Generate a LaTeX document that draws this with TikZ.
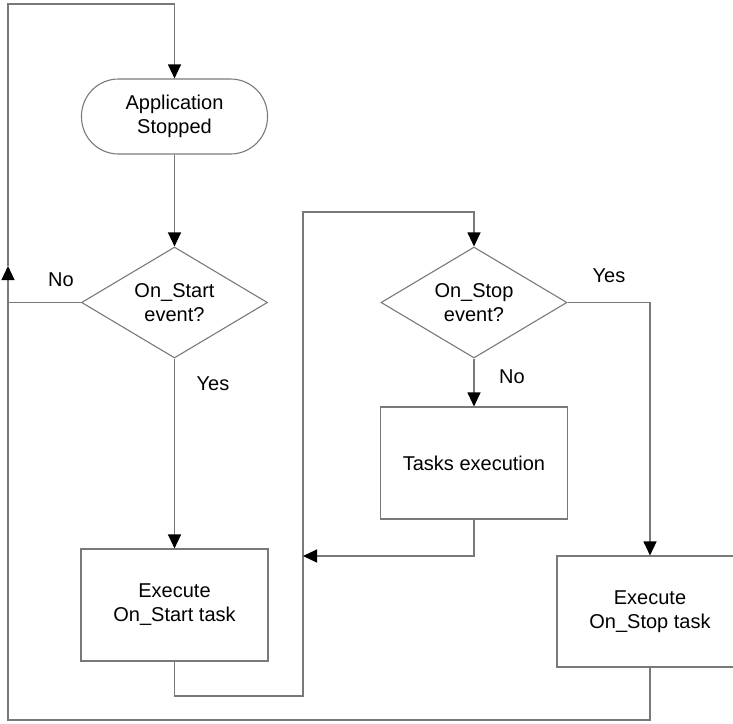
\documentclass[tikz,border=0pt]{standalone}
\usepackage{fontspec}
\setmainfont{Liberation Sans}
\usetikzlibrary{shapes.geometric,arrows.meta}
\begin{document}
\begin{tikzpicture}[x=1pt,y=-1pt,
  line/.style={draw=gray!95!black, line width=1.1pt},
  arr/.style={line, -{Triangle[length=14pt,width=13pt,color=black]}},
  txt/.style={font=\fontsize{20}{24}\selectfont, align=center, text=black},
  termbox/.style={line, txt, rectangle, rounded corners=37pt, minimum width=186pt, minimum height=75pt, inner sep=0pt},
  decbox/.style={line, txt, diamond, aspect=1.67, minimum width=186pt, minimum height=111pt, inner sep=0pt},
  procbox/.style={line, txt, rectangle, minimum width=187pt, minimum height=112pt, inner sep=0pt},
  lbl/.style={txt}]
\useasboundingbox (0,0) rectangle (733,723);
\clip (0,0) rectangle (733,723);
\node[termbox] (term) at (174.5,116.5) {Application\\Stopped};
\node[decbox] (d1) at (174.5,302.5) {On\_Start\\event?};
\node[decbox] (d2) at (474,302.5) {On\_Stop\\event?};
\node[procbox] (tasks) at (474,463) {Tasks execution};
\node[procbox] (exec1) at (174.5,605) {Execute\\On\_Start task};
\node[procbox, minimum width=186pt, minimum height=111pt] (exec2) at (650,611.5) {Execute\\On\_Stop task};

\coordinate (tl) at (8,4);
\coordinate (tr) at (174.5,4);
\coordinate (lno) at (8,302.5);
\coordinate (lup) at (8,266);
\coordinate (bl) at (8,720);
\coordinate (br) at (650,720);
\coordinate (ex1b) at (174.5,696);
\coordinate (midb) at (303,696);
\coordinate (midt) at (303,212);
\coordinate (d2t) at (474,212);
\coordinate (yr) at (650,302.5);
\coordinate (tb) at (474,556);
\coordinate (mida) at (303,556);

\draw[arr] (term.south) -- (d1.north);
\draw[arr] (d1.south) -- (exec1.north);
\draw[line] (d1.west) -- (lno);
\draw[arr] (exec2.south) -- (br) -- (bl) -- (lup);
\draw[arr] (lup) -- (tl) -- (tr) -- (term.north);
\draw[arr] (exec1.south) -- (ex1b) -- (midb) -- (midt) -- (d2t) -- (d2.north);
\draw[arr] (d2.east) -- (yr) -- (exec2.north);
\draw[arr] (d2.south) -- (tasks.north);
\draw[arr] (tasks.south) -- (tb) -- (mida);

\node[lbl] (lno1) at (61,280) {No};
\node[lbl] (lyes1) at (213,384) {Yes};
\node[lbl] (lyes2) at (609,276) {Yes};
\node[lbl] (lno2) at (512,377) {No};
\end{tikzpicture}
\end{document}
